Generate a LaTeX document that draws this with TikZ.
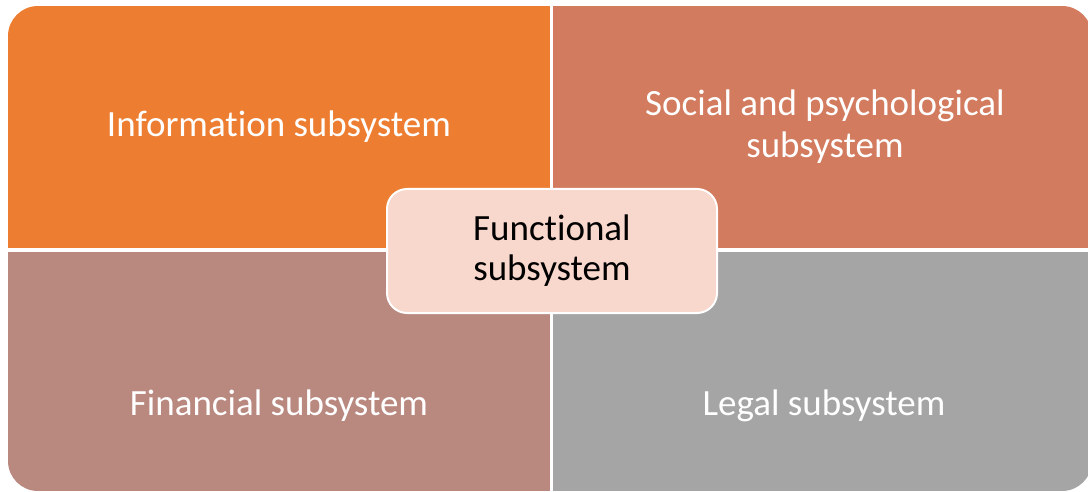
\documentclass[tikz,border=0pt]{standalone}
\usepackage{fontspec}
\setmainfont{Carlito}[Ligatures=NoCommon]
\definecolor{infofill}{RGB}{237,125,49}
\definecolor{socialfill}{RGB}{211,123,94}
\definecolor{financefill}{RGB}{185,137,128}
\definecolor{legalfill}{RGB}{165,165,165}
\definecolor{corefill}{RGB}{248,215,204}

\begin{document}
\begin{tikzpicture}[x=1pt,y=-1pt,
    quadtext/.style={text=white, align=center, font=\fontsize{37}{42}\selectfont},
    corebox/.style={draw=white, line width=2pt, fill=corefill, rounded corners=20pt,
      minimum width=330pt, minimum height=124pt, align=center,
      font=\fontsize{37}{40}\selectfont}]
  \useasboundingbox (0,0) rectangle (1088,492);
  % four quadrants inside one rounded frame
  \begin{scope}
    \clip[rounded corners=30pt] (8,6) rectangle (1092,491);
    \fill[infofill] (8,6) rectangle (550,248);
    \fill[socialfill] (553,6) rectangle (1092,248);
    \fill[financefill] (8,252) rectangle (550,491);
    \fill[legalfill] (553,252) rectangle (1092,491);
  \end{scope}
  \node[quadtext] (info) at (279,127) {Information subsystem};
  \node[quadtext] (social) at (825,127) {Social and psychological\\subsystem};
  \node[quadtext] (finance) at (279,406) {Financial subsystem};
  \node[quadtext] (legal) at (824,406) {Legal subsystem};
  % centre box over the crossing
  \node[corebox] (core) at (552,251) {Functional\\subsystem};
\end{tikzpicture}
\end{document}
